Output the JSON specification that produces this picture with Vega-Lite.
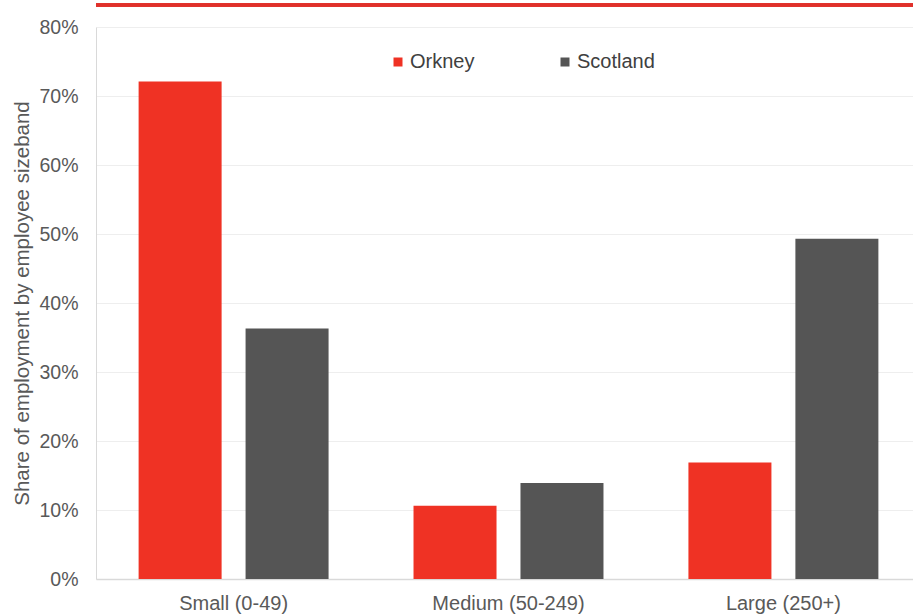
{
  "$schema": "https://vega.github.io/schema/vega-lite/v6.json",
  "width": 825,
  "height": 552,
  "autosize": {"type": "none"},
  "padding": {"left": 96, "top": 27, "right": 0, "bottom": 36},
  "background": "white",
  "config": {"view": {"stroke": null}, "font": "Liberation Sans"},
  "data": {
    "values": [
      {"size": "Small (0-49)", "region": "Orkney", "share": 72.1},
      {"size": "Small (0-49)", "region": "Scotland", "share": 36.3},
      {"size": "Medium (50-249)", "region": "Orkney", "share": 10.6},
      {"size": "Medium (50-249)", "region": "Scotland", "share": 13.9},
      {"size": "Large (250+)", "region": "Orkney", "share": 16.9},
      {"size": "Large (250+)", "region": "Scotland", "share": 49.3}
    ]
  },
  "layer": [
    {
      "mark": {"type": "bar"},
      "encoding": {
        "x": {
          "field": "size", "type": "nominal", "sort": null,
          "scale": {"paddingInner": 0.309, "paddingOuter": 0.155},
          "axis": {"title": null, "labelAngle": 0, "labelFontSize": 20, "labelColor": "#595959", "domainColor": "#d9d9d9", "domainWidth": 1.5, "ticks": false, "labelPadding": 14}
        },
        "xOffset": {
          "field": "region", "type": "nominal", "sort": ["Orkney", "Scotland"],
          "scale": {"paddingInner": 0.224, "paddingOuter": 0}
        },
        "y": {
          "field": "share", "type": "quantitative",
          "scale": {"domain": [0, 80]},
          "axis": {
            "title": "Share of employment by employee sizeband",
            "titleFontSize": 20.5, "titleFontWeight": "normal", "titleColor": "#595959", "titlePadding": 6,
            "values": [0, 10, 20, 30, 40, 50, 60, 70, 80],
            "labelExpr": "datum.value + '%'",
            "labelFontSize": 19.5, "labelColor": "#595959", "labelPadding": 18,
            "ticks": false, "domainColor": "#d9d9d9", "gridColor": "#eeeeee"
          }
        },
        "color": {
          "field": "region", "type": "nominal",
          "scale": {"domain": ["Orkney", "Scotland"], "range": ["#ef3224", "#555555"]},
          "legend": {
            "title": null, "orient": "none", "direction": "horizontal",
            "legendX": 292, "legendY": 25,
            "symbolType": "square", "symbolSize": 81, "symbolStrokeWidth": 0,
            "labelFontSize": 20, "labelColor": "#404040", "labelOffset": 2,
            "columnPadding": 80
          }
        }
      }
    },
    {
      "mark": {"type": "rule", "color": "#e0302a", "strokeWidth": 3},
      "encoding": {"y": {"datum": 83.2}}
    }
  ]
}
